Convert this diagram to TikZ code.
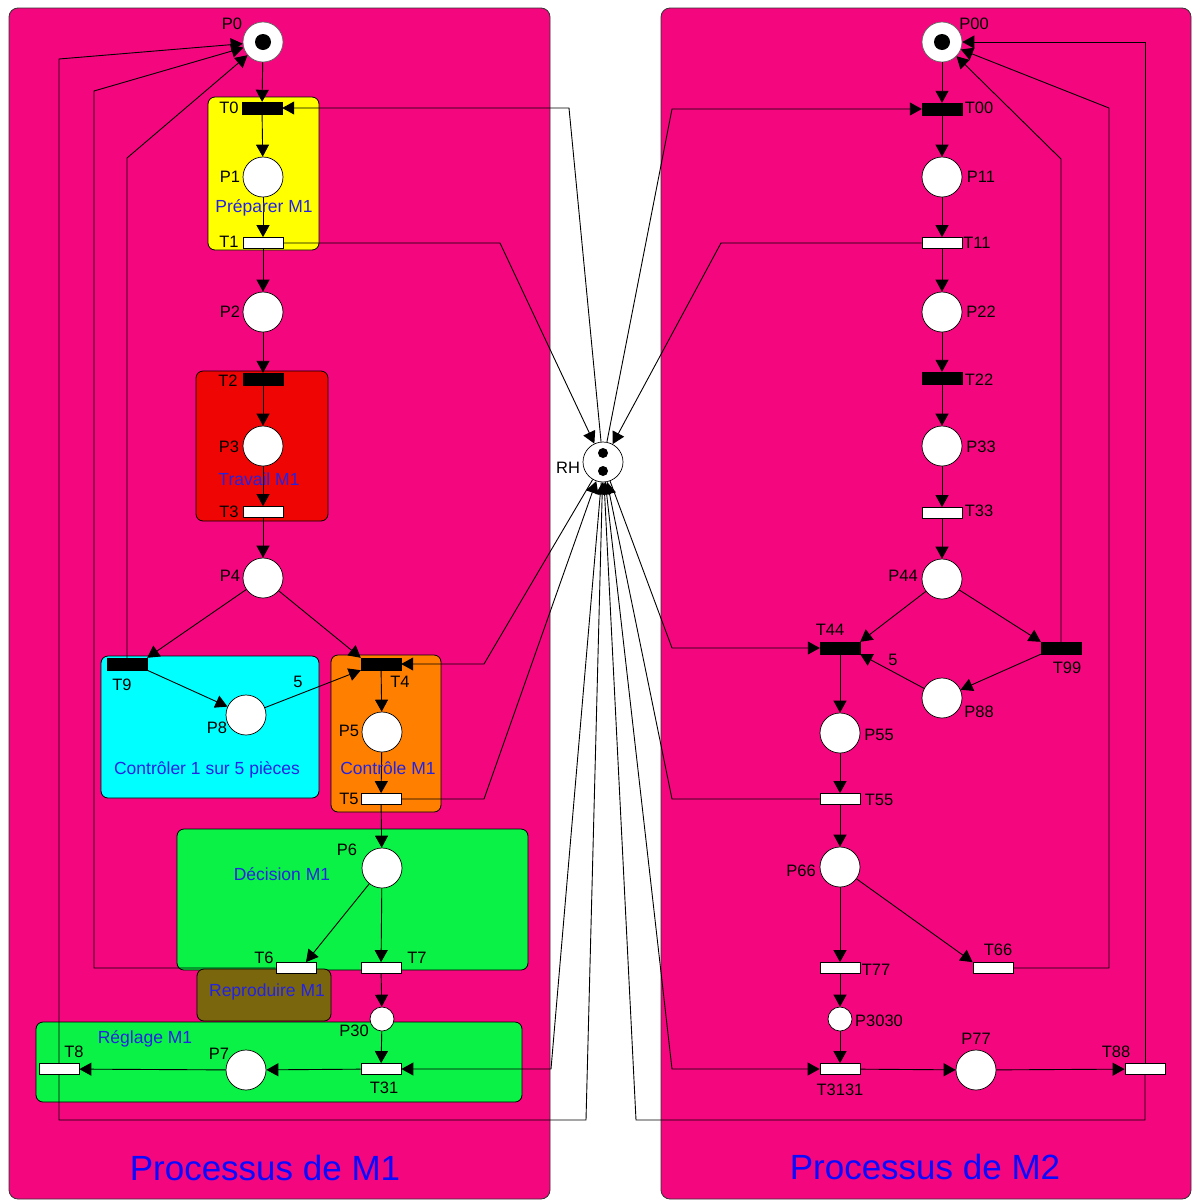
\documentclass[tikz,border=0pt]{standalone}
\usepackage{fontspec}
\setmainfont{Liberation Sans}
\usetikzlibrary{arrows.meta,calc}
\definecolor{panel}{RGB}{244,6,126}
\definecolor{yel}{RGB}{255,255,0}
\definecolor{redb}{RGB}{240,5,5}
\definecolor{cyanb}{RGB}{0,255,255}
\definecolor{orangeb}{RGB}{255,128,0}
\definecolor{greenb}{RGB}{10,242,70}
\definecolor{oliveb}{RGB}{122,102,12}
\definecolor{grpblue}{RGB}{35,35,225}
\definecolor{titleblue}{RGB}{10,10,255}
\begin{document}
\begin{tikzpicture}[x=1pt,y=-1pt,
  pl/.style={circle,draw=black,line width=0.7pt,fill=white,minimum size=40pt,inner sep=0pt},
  spl/.style={circle,draw=black,line width=0.7pt,fill=white,minimum size=24pt,inner sep=0pt},
  imm/.style={rectangle,fill=black,draw=black,minimum width=40pt,minimum height=12pt,inner sep=0pt},
  tim/.style={rectangle,fill=white,draw=black,line width=0.8pt,minimum width=40pt,minimum height=11pt,inner sep=0pt},
  arc/.style={line width=0.9pt,-{Triangle[length=12pt,width=13pt]}},
  lab/.style={font=\fontsize{16.5}{18}\selectfont,inner sep=0pt},
  grp/.style={font=\fontsize{17.5}{20}\selectfont,text=grpblue,inner sep=0pt},
  ttl/.style={font=\fontsize{35}{40}\selectfont,text=titleblue,inner sep=0pt},
  grpbox/.style={draw=black,line width=0.8pt,rounded corners=7pt},
  pbox/.style={draw=black!80,line width=0.8pt,rounded corners=9pt,fill=panel},
  tok/.style={circle,fill=black,inner sep=0pt,minimum size=#1},
]
\useasboundingbox (0,0) rectangle (1192,1200);
\fill[white] (0,0) rectangle (1192,1200);
% panels
\draw[pbox] (9,8) rectangle (550,1199);
\draw[pbox] (661,8) rectangle (1191,1199);
% group boxes
\draw[grpbox,fill=yel] (208,97) rectangle (319,250);
\draw[grpbox,fill=redb] (196,371) rectangle (328,521);
\draw[grpbox,fill=cyanb] (101,656) rectangle (319,798);
\draw[grpbox,fill=orangeb] (331,655) rectangle (441,812);
\draw[grpbox,fill=greenb] (177,829) rectangle (528,970);
\draw[grpbox,fill=oliveb] (197,969) rectangle (331,1021);
\draw[grpbox,fill=greenb] (36,1022) rectangle (522,1102);

% ---------- nodes left ----------
\node[pl,draw=black!60] (P0) at (263,42) {};
\node[tok=16pt] (P0tok) at (263,42) {};
\node[imm] (T0) at (262,108) {};
\node[pl] (P1) at (263,177) {};
\node[tim] (T1) at (263,243) {};
\node[pl] (P2) at (263,312) {};
\node[imm] (T2) at (263,379) {};
\node[pl] (P3) at (263,446) {};
\node[tim] (T3) at (263,512) {};
\node[pl] (P4) at (263,578) {};
\node[imm] (T9) at (127,664) {};
\node[pl] (P8) at (246,715) {};
\node[imm] (T4) at (381,664) {};
\node[pl] (P5) at (382,732) {};
\node[tim] (T5) at (381,799) {};
\node[pl] (P6) at (382,868) {};
\node[tim] (T6) at (296,968) {};
\node[tim] (T7) at (381,968) {};
\node[spl] (P30) at (382,1019) {};
\node[tim] (T31) at (381,1069) {};
\node[pl] (P7) at (246,1070) {};
\node[tim] (T8) at (59,1069) {};
% RH
\node[pl] (RH) at (603,462) {};
\node[tok=10pt] (RHt1) at (603,453) {};
\node[tok=10pt] (RHt2) at (603,471) {};
% ---------- nodes right ----------
\node[pl,draw=black!60] (P00) at (942,42) {};
\node[tok=16pt] (P00tok) at (942,42) {};
\node[imm] (T00) at (942,109) {};
\node[pl] (P11) at (942,177) {};
\node[tim] (T11) at (942,243) {};
\node[pl] (P22) at (942,312) {};
\node[imm] (T22) at (942,378) {};
\node[pl] (P33) at (942,446) {};
\node[tim] (T33) at (942,513) {};
\node[pl] (P44) at (942,579) {};
\node[imm] (T44) at (840,648) {};
\node[imm] (T99) at (1061,648) {};
\node[pl] (P88) at (942,698) {};
\node[pl] (P55) at (840,733) {};
\node[tim] (T55) at (840,799) {};
\node[pl] (P66) at (840,867) {};
\node[tim] (T77) at (840,968) {};
\node[tim] (T66) at (993,968) {};
\node[spl] (P3030) at (840,1019) {};
\node[tim] (T3131) at (840,1069) {};
\node[pl] (P77) at (976,1070) {};
\node[tim] (T88) at (1145,1069) {};

% ---------- arcs left ----------
\draw[arc] (P0) -- (T0);
\draw[arc] (T0) -- (P1);
\draw[arc] (P1) -- (T1);
\draw[arc] (T1) -- (P2);
\draw[arc] (P2) -- (T2);
\draw[arc] (T2) -- (P3);
\draw[arc] (P3) -- (T3);
\draw[arc] (T3) -- (P4);
\draw[arc] (P4) -- (T9.north east);
\draw[arc] (P4) -- (T4.north west);
\draw[arc] (T9.south east) -- (P8);
\draw[arc] (P8) -- (T4.south west);
\draw[arc] (T4) -- (P5);
\draw[arc] (P5) -- (T5);
\draw[arc] (T5) -- (P6);
\draw[arc] (P6) -- ($(T6.north)+(10,0)$);
\draw[arc] (P6) -- (T7);
\draw[arc] (T7) -- (P30);
\draw[arc] (P30) -- (T31);
\draw[arc] (T31) -- (P7);
\draw[arc] (P7) -- (T8);
% returns to P0
\draw[arc] (T9.north) -- (127,158) -- (P0);
\draw[arc] (T6.west) -- (94,968) -- (94,91) -- (P0);
\draw[arc] (T8.north) -- (59,59) -- (P0);
% resource RH (left)
\draw[arc] (RH) -- (569,108) -- (T0.east);
\draw[arc] (T1.east) -- (500,243) -- (RH);
\draw[arc] (RH) -- (484,664) -- (T4.east);
\draw[arc] (T5.east) -- (484,799) -- (RH);
\draw[arc] (RH) -- (551,1069) -- (T31.east);
\draw[arc] (T8.south) -- (59,1120) -- (586,1120) -- (RH);

% ---------- arcs right ----------
\draw[arc] (P00) -- (T00);
\draw[arc] (T00) -- (P11);
\draw[arc] (P11) -- (T11);
\draw[arc] (T11) -- (P22);
\draw[arc] (P22) -- (T22);
\draw[arc] (T22) -- (P33);
\draw[arc] (P33) -- (T33);
\draw[arc] (T33) -- (P44);
\draw[arc] (P44) -- (T44.north east);
\draw[arc] (P44) -- (T99.north west);
\draw[arc] (T99.south west) -- (P88);
\draw[arc] (P88) -- (T44.south east);
\draw[arc] (T44) -- (P55);
\draw[arc] (P55) -- (T55);
\draw[arc] (T55) -- (P66);
\draw[arc] (P66) -- (T77);
\draw[arc] (P66) -- (T66.north west);
\draw[arc] (T77) -- (P3030);
\draw[arc] (P3030) -- (T3131);
\draw[arc] (T3131) -- (P77);
\draw[arc] (P77) -- (T88);
% returns to P00
\draw[arc] (T99.north) -- (1061,159) -- (P00);
\draw[arc] (T66.east) -- (1109,968) -- (1109,108) -- (P00);
\draw[arc] (T88.north) -- (1145,42) -- (P00);
% resource RH (right)
\draw[arc] (RH) -- (672,109) -- (T00.west);
\draw[arc] (T11.west) -- (721,243) -- (RH);
\draw[arc] (RH) -- (672,648) -- (T44.west);
\draw[arc] (T55.west) -- (672,799) -- (RH);
\draw[arc] (RH) -- (672,1069) -- (T3131.west);
\draw[arc] (T88.south) -- (1145,1120) -- (636,1120) -- (RH);

% ---------- labels left ----------
\node[lab] (lP0) at (232,24) {P0};
\node[lab] (lT0) at (229,108) {T0};
\node[lab] (lP1) at (230,177) {P1};
\node[grp] (gPrep) at (264,208) {Préparer M1};
\node[lab] (lT1) at (229,242) {T1};
\node[lab] (lP2) at (230,312) {P2};
\node[lab] (lT2) at (228,381) {T2};
\node[lab] (lP3) at (229,447) {P3};
\node[grp] (gTrav) at (259,479) {Travail M1};
\node[lab] (lT3) at (229,512) {T3};
\node[lab] (lP4) at (230,576) {P4};
\node[lab] (lT9) at (122,685) {T9};
\node[lab] (lP8) at (217,728) {P8};
\node[lab] (w5a) at (298,682) {5};
\node[grp] (gCtrl) at (207,770) {Contrôler 1 sur 5 pièces};
\node[lab] (lT4) at (400,682) {T4};
\node[lab] (lP5) at (349,731) {P5};
\node[grp] (gCtrlM) at (388,768) {Contrôle M1};
\node[lab] (lT5) at (349,799) {T5};
\node[lab] (lP6) at (347,850) {P6};
\node[grp] (gDec) at (282,874) {Décision M1};
\node[lab] (lT6) at (264,958) {T6};
\node[lab] (lT7) at (417,958) {T7};
\node[grp] (gRep) at (267,992) {Reproduire M1};
\node[lab] (lP30) at (354,1031) {P30};
\node[grp] (gReg) at (145,1039) {Réglage M1};
\node[lab] (lT8) at (74,1052) {T8};
\node[lab] (lP7) at (219,1054) {P7};
\node[lab] (lT31) at (384,1088) {T31};
\node[ttl] (title1) at (265,1168) {Processus de M1};
\node[lab] (lRH) at (568,468) {RH};
% ---------- labels right ----------
\node[lab] (lP00) at (974,24) {P00};
\node[lab] (lT00) at (979,108) {T00};
\node[lab] (lP11) at (981,177) {P11};
\node[lab] (lT11) at (977,243) {T11};
\node[lab] (lP22) at (981,312) {P22};
\node[lab] (lT22) at (979,380) {T22};
\node[lab] (lP33) at (981,447) {P33};
\node[lab] (lT33) at (979,511) {T33};
\node[lab] (lP44) at (903,576) {P44};
\node[lab] (lT44) at (830,630) {T44};
\node[lab] (w5b) at (893,660) {5};
\node[lab] (lT99) at (1067,668) {T99};
\node[lab] (lP88) at (979,712) {P88};
\node[lab] (lP55) at (879,735) {P55};
\node[lab] (lT55) at (879,800) {T55};
\node[lab] (lP66) at (801,871) {P66};
\node[lab] (lT77) at (876,970) {T77};
\node[lab] (lT66) at (998,950) {T66};
\node[lab] (lP3030) at (879,1021) {P3030};
\node[lab] (lT3131) at (840,1090) {T3131};
\node[lab] (lP77) at (976,1039) {P77};
\node[lab] (lT88) at (1116,1052) {T88};
\node[ttl] (title2) at (925,1167) {Processus de M2};
\end{tikzpicture}
\end{document}
